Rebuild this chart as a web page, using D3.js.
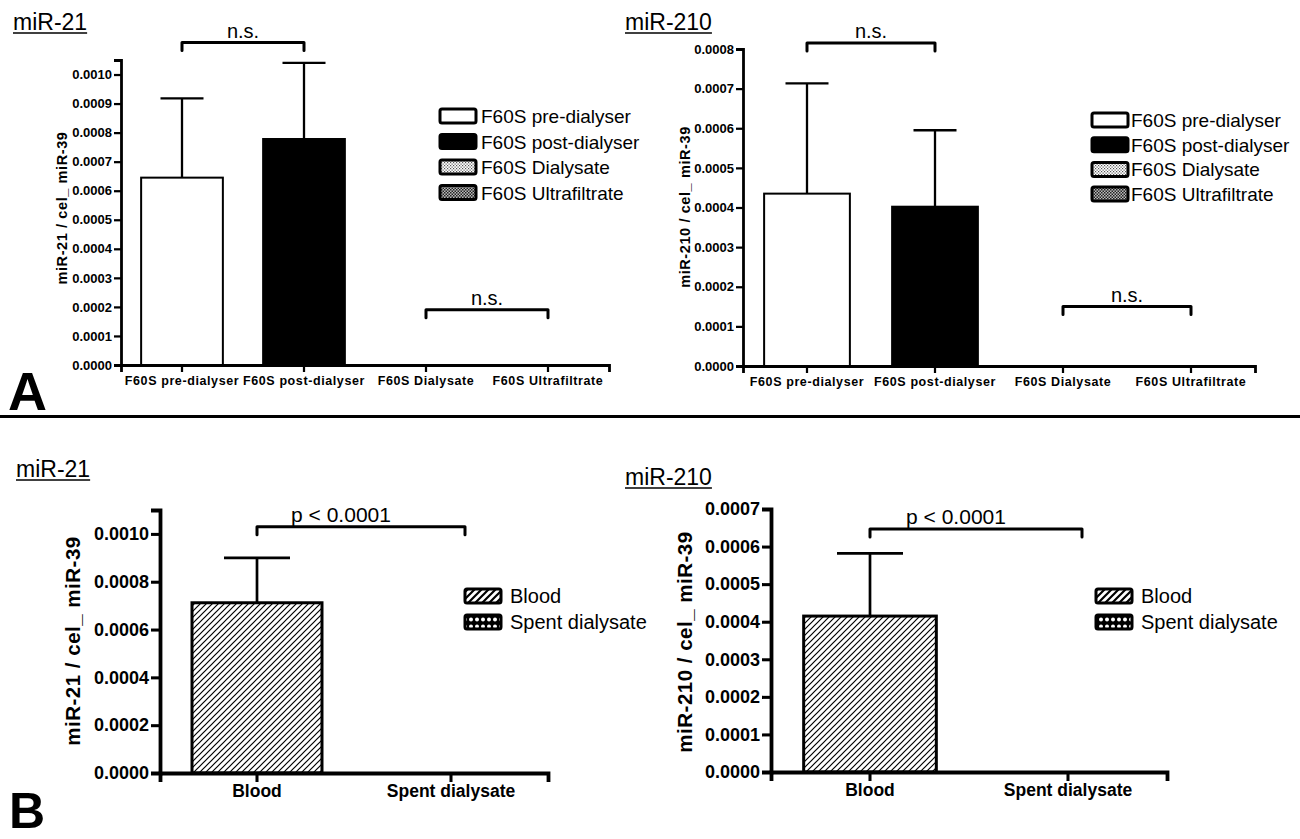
<!DOCTYPE html>
<html><head><meta charset="utf-8">
<script src="https://cdn.jsdelivr.net/npm/d3@7"></script>
<style>
body{margin:0;background:#fff}
svg text{font-family:"Liberation Sans",Arial,sans-serif}
</style>
</head><body>
<svg id="c" width="1300" height="839"></svg>
<script>
// ---------------- DATA ----------------
const categoriesA = ["F60S pre-dialyser", "F60S post-dialyser", "F60S Dialysate", "F60S Ultrafiltrate"];
const mir21A_mean = [0.000645, 0.000778, 0, 0];
const mir21A_err  = [0.000273, 0.000262, 0, 0];
const mir210A_mean = [0.000435, 0.000402, 0, 0];
const mir210A_err  = [0.000278, 0.000193, 0, 0];

const categoriesB = ["Blood", "Spent dialysate"];
const mir21B_mean = [0.000712, 0];
const mir21B_err  = [0.000188, 0];
const mir210B_mean = [0.000415, 0];
const mir210B_err  = [0.000167, 0];

const ticksA21  = [0, 0.0001, 0.0002, 0.0003, 0.0004, 0.0005, 0.0006, 0.0007, 0.0008, 0.0009, 0.0010];
const ticksA210 = [0, 0.0001, 0.0002, 0.0003, 0.0004, 0.0005, 0.0006, 0.0007, 0.0008];
const ticksB21  = [0, 0.0002, 0.0004, 0.0006, 0.0008, 0.0010];
const ticksB210 = [0, 0.0001, 0.0002, 0.0003, 0.0004, 0.0005, 0.0006, 0.0007];

const compA21  = [{from: 0, to: 1, y: 0.00111, label: "n.s."}, {from: 2, to: 3, y: 0.000190, label: "n.s."}];
const compA210 = [{from: 0, to: 1, y: 0.000815, label: "n.s."}, {from: 2, to: 3, y: 0.000150, label: "n.s."}];
const compB21  = [{from: 0, to: 1, y: 0.00103, label: "p < 0.0001"}];
const compB210 = [{from: 0, to: 1, y: 0.000647, label: "p < 0.0001"}];

// ---------------- DRAW ----------------
const svg = d3.select("#c");
const defs = svg.append("defs");

function hatch(id, size, sw) {
  const p = defs.append("pattern").attr("id", id).attr("patternUnits", "userSpaceOnUse")
    .attr("width", size).attr("height", size);
  p.append("rect").attr("width", size).attr("height", size).attr("fill", "white");
  p.append("path").attr("d", `M-1,1 l2,-2 M0,${size} l${size},${-size} M${size-1},${size+1} l2,-2`)
    .attr("stroke", "black").attr("stroke-width", sw);
}
hatch("hatch", 6, 1.2);
hatch("hatchL", 7, 2.2);
(function(){
  const p = defs.append("pattern").attr("id", "dots1").attr("patternUnits", "userSpaceOnUse").attr("width", 3).attr("height", 3);
  p.append("rect").attr("width", 3).attr("height", 3).attr("fill", "white");
  p.append("rect").attr("x", 0).attr("y", 0).attr("width", 1.2).attr("height", 1.2).attr("fill", "#555");
  p.append("rect").attr("x", 1.5).attr("y", 1.5).attr("width", 1.2).attr("height", 1.2).attr("fill", "#555");
  const q = defs.append("pattern").attr("id", "dots2").attr("patternUnits", "userSpaceOnUse").attr("width", 3).attr("height", 3);
  q.append("rect").attr("width", 3).attr("height", 3).attr("fill", "#bbb");
  q.append("rect").attr("x", 0).attr("y", 0).attr("width", 1.5).attr("height", 1.5).attr("fill", "#222");
  q.append("rect").attr("x", 1.5).attr("y", 1.5).attr("width", 1.5).attr("height", 1.5).attr("fill", "#222");
  const r = defs.append("pattern").attr("id", "circ").attr("patternUnits", "userSpaceOnUse").attr("width", 6).attr("height", 7);
  r.append("rect").attr("width", 6).attr("height", 7).attr("fill", "black");
  r.append("circle").attr("cx", 3).attr("cy", 3.5).attr("r", 2).attr("fill", "white");
})();

const fillsA = ["white", "black", "url(#dots1)", "url(#dots2)"];
const fillsB = ["url(#hatch)", "url(#circ)"];
const legendFillsA = ["white", "black", "url(#dots1)", "url(#dots2)"];
const legendFillsB = ["url(#hatchL)", "url(#circ)"];

function panel(cfg) {
  const g = svg.append("g");
  const x = d3.scaleBand().domain(cfg.cats).range([cfg.x0, cfg.x1]).paddingInner(0.33).paddingOuter(0.165);
  const y = d3.scaleLinear().domain([0, cfg.ymax]).range([cfg.base, cfg.top]);
  const data = cfg.cats.map((c, i) => ({c, m: cfg.mean[i], e: cfg.err[i], fill: cfg.fills[i]}));

  g.selectAll("rect.bar").data(data).join("rect").attr("class", "bar")
    .attr("x", d => x(d.c)).attr("width", x.bandwidth())
    .attr("y", d => y(d.m)).attr("height", d => y(0) - y(d.m))
    .attr("fill", d => d.fill).attr("stroke", "black").attr("stroke-width", cfg.barStroke);

  const ed = data.filter(d => d.e > 0);
  g.selectAll("line.err").data(ed).join("line").attr("class", "err")
    .attr("x1", d => x(d.c) + x.bandwidth() / 2).attr("x2", d => x(d.c) + x.bandwidth() / 2)
    .attr("y1", d => y(d.m)).attr("y2", d => y(d.m + d.e))
    .attr("stroke", "black").attr("stroke-width", cfg.errStroke);
  g.selectAll("line.cap").data(ed).join("line").attr("class", "cap")
    .attr("x1", d => x(d.c) + x.bandwidth() / 2 - cfg.cap).attr("x2", d => x(d.c) + x.bandwidth() / 2 + cfg.cap)
    .attr("y1", d => y(d.m + d.e)).attr("y2", d => y(d.m + d.e))
    .attr("stroke", "black").attr("stroke-width", cfg.errStroke);

  const gy = g.append("g").attr("transform", `translate(${cfg.x0},0)`)
    .call(d3.axisLeft(y).tickValues(cfg.ticks).tickFormat(d3.format(".4f")).tickSizeOuter(0).tickSize(cfg.tickLen).tickPadding(2));
  const gx = g.append("g").attr("transform", `translate(0,${cfg.base})`)
    .call(d3.axisBottom(x).tickSizeOuter(0).tickSize(cfg.tickLen).tickPadding(cfg.xPad));
  [gy, gx].forEach(a => {
    a.attr("font-family", null).attr("font-size", null);
    a.select(".domain").attr("stroke", "black").attr("stroke-width", cfg.axisStroke);
    a.selectAll(".tick line").attr("stroke", "black").attr("stroke-width", cfg.axisStroke * 0.8);
    a.selectAll(".tick text").attr("fill", "black").attr("font-weight", "bold");
  });
  gy.selectAll(".tick text").attr("font-size", cfg.tickFont);
  gx.selectAll(".tick text").attr("font-size", cfg.xFont).attr("letter-spacing", cfg.xLS);

  g.append("text").attr("transform", `translate(${cfg.ylabX},${cfg.ylabY}) rotate(-90)`)
    .attr("text-anchor", "middle").attr("dominant-baseline", "central")
    .attr("font-weight", "bold").attr("font-size", cfg.ylabFont).attr("letter-spacing", cfg.ylabLS)
    .text(cfg.ylab);

  cfg.comps.forEach(cp => {
    const xa = x(cfg.cats[cp.from]) + x.bandwidth() / 2;
    const xb = x(cfg.cats[cp.to]) + x.bandwidth() / 2 + cfg.bracketPad;
    const yy = y(cp.y);
    g.append("path").attr("d", `M${xa},${yy + cfg.bracketH} V${yy} H${xb} V${yy + cfg.bracketH}`)
      .attr("fill", "none").attr("stroke", "black").attr("stroke-width", 3)
      .attr("stroke-linejoin", "round").attr("stroke-linecap", "round");
    g.append("text").attr("x", (xa + xb) / 2 + cfg.labelDx).attr("y", yy - 5).attr("text-anchor", "middle")
      .attr("font-size", cfg.compFont).text(cp.label);
  });

  const t = g.append("text").attr("x", cfg.titleX).attr("y", cfg.titleY).attr("font-size", 23).text(cfg.title);
  const tw = t.node().getComputedTextLength();
  g.append("line").attr("x1", cfg.titleX).attr("x2", cfg.titleX + tw).attr("y1", cfg.titleY + 3).attr("y2", cfg.titleY + 3)
    .attr("stroke", "black").attr("stroke-width", 1.5);

  const lg = g.append("g");
  cfg.cats.forEach((c, i) => {
    const cy = cfg.legY + i * cfg.legDy;
    lg.append("rect").attr("x", cfg.legX).attr("y", cy - 7).attr("width", 36).attr("height", 14).attr("rx", 2)
      .attr("fill", cfg.legFills[i]).attr("stroke", "black").attr("stroke-width", 3);
    lg.append("text").attr("x", cfg.legX + cfg.legTx).attr("y", cy + 7).attr("font-size", cfg.legFont).text(c);
  });
}

const common = {barStroke: 2, errStroke: 2.3, cap: 21.5, axisStroke: 2.8, tickLen: 7, xPad: 4,
  tickFont: 13, xFont: 12.5, xLS: 0.6, ylabFont: 14.5, ylabLS: 0.6, bracketH: 8, bracketPad: 0, labelDx: 0,
  compFont: 20, legFont: 19, legTx: 41};

panel(Object.assign({}, common, {cats: categoriesA, mean: mir21A_mean, err: mir21A_err, fills: fillsA, legFills: legendFillsA,
  x0: 121, x1: 609, base: 365, top: 60, ymax: 0.00105, ticks: ticksA21,
  ylab: "miR-21 / cel_ miR-39", ylabX: 62, ylabY: 208, comps: compA21,
  title: "miR-21", titleX: 13, titleY: 30, legX: 440, legY: 116, legDy: 25.5}));

panel(Object.assign({}, common, {cats: categoriesA, mean: mir210A_mean, err: mir210A_err, fills: fillsA, legFills: legendFillsA,
  x0: 743, x1: 1255, base: 366, top: 49, ymax: 0.0008, ticks: ticksA210,
  ylab: "miR-210 / cel_ miR-39", ylabX: 685, ylabY: 207, comps: compA210,
  title: "miR-210", titleX: 625, titleY: 30, legX: 1092, legY: 120, legDy: 24.7, legTx: 39}));

const commonB = Object.assign({}, common, {barStroke: 3, errStroke: 2.7, cap: 33, axisStroke: 3.8, tickLen: 9, xPad: 3,
  tickFont: 18, xFont: 17.5, xLS: 0, ylabFont: 20.5, ylabLS: 0.5, bracketPad: 14, labelDx: -20, compFont: 21, legFont: 20, legTx: 45});

panel(Object.assign({}, commonB, {cats: categoriesB, mean: mir21B_mean, err: mir21B_err, fills: fillsB, legFills: legendFillsB,
  x0: 160, x1: 548, base: 773, top: 510, ymax: 0.0011, ticks: ticksB21,
  ylab: "miR-21 / cel_ miR-39", ylabX: 72, ylabY: 641, comps: compB21,
  title: "miR-21", titleX: 16, titleY: 477, legX: 465, legY: 596, legDy: 26}));

panel(Object.assign({}, commonB, {cats: categoriesB, mean: mir210B_mean, err: mir210B_err, fills: fillsB, legFills: legendFillsB,
  x0: 771, x1: 1167, base: 772, top: 509, ymax: 0.0007, ticks: ticksB210,
  ylab: "miR-210 / cel_ miR-39", ylabX: 684, ylabY: 642, comps: compB210,
  title: "miR-210", titleX: 625, titleY: 485, legX: 1096, legY: 596, legDy: 26}));

svg.append("line").attr("x1", 0).attr("x2", 1300).attr("y1", 416.5).attr("y2", 416.5).attr("stroke", "black").attr("stroke-width", 3);
svg.append("text").attr("x", 8).attr("y", 410).attr("font-size", 54).attr("font-weight", "bold").text("A");
svg.append("text").attr("x", 9).attr("y", 828).attr("font-size", 50).attr("font-weight", "bold").text("B");
</script>
</body></html>
